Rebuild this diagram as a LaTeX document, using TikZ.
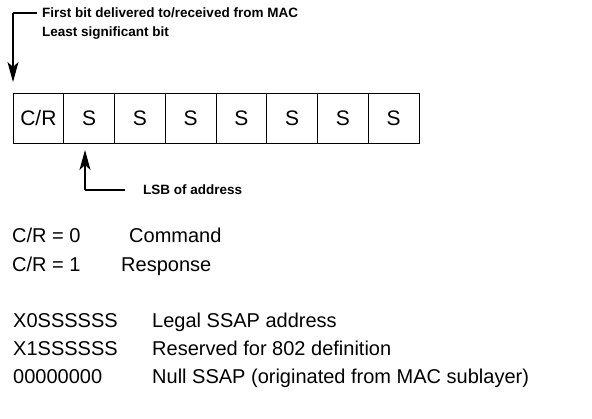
\documentclass[tikz,border=0pt]{standalone}
\usepackage{fontspec}
\setmainfont{Liberation Sans}
\usetikzlibrary{arrows.meta, positioning}
\tikzset{
    cell/.style={rectangle, draw=black, line width=0.9pt, minimum width=50.75pt, minimum height=50pt, inner sep=0pt, outer sep=0pt, font=\fontsize{21}{21}\selectfont},
    note/.style={anchor=base west, inner sep=0pt, font=\bfseries\fontsize{13.5}{13.5}\selectfont},
    legend/.style={anchor=base west, inner sep=0pt, font=\fontsize{20}{20}\selectfont},
    arrow/.style={line width=1.2pt, -{Stealth[length=20pt, width=11pt, inset=5pt]}}
}

\begin{document}
\begin{tikzpicture}[x=1pt, y=-1pt]
    \useasboundingbox (0,0) rectangle (592,419);

    % field of the SSAP octet
    \node (cr) [cell, anchor=north west] at (13,93) {C/R};
    \node (s1) [cell, right=0pt of cr] {S};
    \node (s2) [cell, right=0pt of s1] {S};
    \node (s3) [cell, right=0pt of s2] {S};
    \node (s4) [cell, right=0pt of s3] {S};
    \node (s5) [cell, right=0pt of s4] {S};
    \node (s6) [cell, right=0pt of s5] {S};
    \node (s7) [cell, right=0pt of s6] {S};

    % first bit note
    \node (first) [note] at (42,18) {First bit delivered to/received from MAC};
    \node (least) [note] at (42,37) {Least significant bit};
    \coordinate (firstbend) at (13,13);
    \coordinate (firstend) at (37,13);
    \coordinate (firsttip) at (13,82);
    \draw [line width=1.2pt] (firstend) -- (firstbend);
    \draw [arrow] (firstbend) -- (firsttip);

    % LSB note
    \node (lsb) [note] at (143,195) {LSB of address};
    \coordinate (lsbbend) at (85,190);
    \coordinate (lsbend) at (125,190);
    \coordinate (lsbtip) at (85,150);
    \draw [line width=1.2pt] (lsbend) -- (lsbbend);
    \draw [arrow] (lsbbend) -- (lsbtip);

    % legend
    \node (cr0) [legend] at (12,243) {C/R = 0};
    \node (cmd) [legend] at (129,243) {Command};
    \node (cr1) [legend] at (12,272) {C/R = 1};
    \node (rsp) [legend] at (121,272) {Response};

    \node (x0) [legend] at (13,328) {X0SSSSSS};
    \node (legal) [legend] at (152,328) {Legal SSAP address};
    \node (x1) [legend] at (13,356) {X1SSSSSS};
    \node (resv) [legend] at (152,356) {Reserved for 802 definition};
    \node (z0) [legend] at (13,384) {00000000};
    \node (null) [legend] at (152,384) {Null SSAP (originated from MAC sublayer)};
\end{tikzpicture}
\end{document}
